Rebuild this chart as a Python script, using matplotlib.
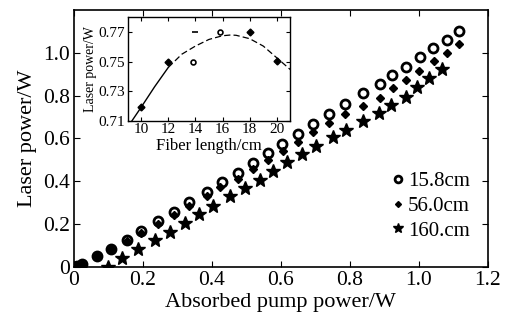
import numpy as np
import matplotlib
matplotlib.use("Agg")
from matplotlib import pyplot as plt

plt.rcParams['font.family'] = ['Liberation Serif', 'DejaVu Serif']
plt.rcParams['mathtext.fontset'] = 'stix'

# main data: laser power vs absorbed pump power
x_158 = [0, 0.01, 0.025, 0.066, 0.107, 0.153, 0.196, 0.243, 0.290, 0.335, 0.385, 0.428, 0.476, 0.520,
         0.563, 0.602, 0.650, 0.694, 0.740, 0.786, 0.839, 0.887, 0.921, 0.964, 1.003, 1.041, 1.082, 1.117]
y_158 = [0, 0.005, 0.015, 0.05, 0.085, 0.125, 0.168, 0.212, 0.256, 0.301, 0.350, 0.395, 0.44, 0.485,
         0.53, 0.575, 0.62, 0.665, 0.712, 0.76, 0.81, 0.855, 0.895, 0.935, 0.978, 1.02, 1.06, 1.10]

x_560 = [0, 0.01, 0.025, 0.066, 0.107, 0.153, 0.196, 0.243, 0.290, 0.335, 0.385, 0.425, 0.476, 0.520,
         0.563, 0.605, 0.650, 0.694, 0.740, 0.786, 0.839, 0.887, 0.926, 0.964, 1.001, 1.043, 1.082, 1.117]
y_560 = [0, 0.005, 0.015, 0.05, 0.085, 0.122, 0.160, 0.20, 0.24, 0.285, 0.33, 0.375, 0.41, 0.455,
         0.50, 0.54, 0.585, 0.63, 0.672, 0.715, 0.75, 0.79, 0.835, 0.875, 0.915, 0.96, 1.00, 1.04]

x_160 = [0.098, 0.14, 0.186, 0.235, 0.278, 0.322, 0.363, 0.404, 0.452, 0.496, 0.539, 0.578, 0.618, 0.66,
         0.701, 0.75, 0.79, 0.839, 0.885, 0.918, 0.962, 0.995, 1.03, 1.066]
y_160 = [0, 0.041, 0.082, 0.124, 0.164, 0.206, 0.245, 0.285, 0.33, 0.368, 0.407, 0.447, 0.488, 0.528,
         0.565, 0.605, 0.64, 0.68, 0.72, 0.755, 0.795, 0.84, 0.88, 0.925]

labels = ['15.8cm', '56.0cm', '160.cm']

# inset: laser power vs fiber length
fib_len = [10, 12, 13.8, 14, 15.8, 18, 20]
fib_pow = [0.719, 0.75, 0.75, 0.77, 0.770, 0.770, 0.7505]
fib_mark = ['D', 'D', 'o', '_', 'o', 'D', 'D']
fit_x = [9.3, 10, 11, 12, 13, 14, 15, 16, 16.6, 17, 18, 19, 20, 21]
fit_y = [0.7095, 0.719, 0.733, 0.746, 0.755, 0.7605, 0.765, 0.7675, 0.768, 0.7678, 0.7655, 0.7605, 0.7525, 0.7445]

fig = plt.figure(figsize=(5.06, 3.2), dpi=100)
ax = fig.add_axes([0.146, 0.166, 0.818, 0.803])

ax.plot(x_158, y_158, 'o', mfc='white', mec='black', ms=6.5, mew=2.0, ls='none', label=labels[0])
ax.plot(x_560, y_560, 'D', color='black', ms=4, ls='none', label=labels[1])
ax.plot(x_160, y_160, '*', color='black', ms=10, ls='none', label=labels[2])

ax.set_xlim(0, 1.2)
ax.set_ylim(0, 1.2)
ax.set_xticks([0, 0.2, 0.4, 0.6, 0.8, 1.0, 1.2])
ax.set_xticklabels(['0', '0.2', '0.4', '0.6', '0.8', '1.0', '1.2'])
ax.set_yticks([0, 0.2, 0.4, 0.6, 0.8, 1.0])
ax.set_yticklabels(['0', '0.2', '0.4', '0.6', '0.8', '1.0'])
ax.tick_params(direction='in', labelsize=15.5, length=4, top=True, right=True, pad=3)
ax.set_xlabel('Absorbed pump power/W', fontsize=16, labelpad=2)
ax.set_ylabel('Laser power/W', fontsize=16, labelpad=4)
for s in ax.spines.values():
    s.set_linewidth(1.2)

leg = ax.legend(loc='center left', bbox_to_anchor=(0.775, 0.356), bbox_transform=fig.transFigure,
                frameon=False, fontsize=15, handlelength=0.6, handletextpad=0.15,
                labelspacing=0.25, borderpad=0, borderaxespad=0, markerscale=0.75)

# inset
ins = fig.add_axes([0.252, 0.623, 0.322, 0.323])
split = 4
ins.plot(fit_x[:split], fit_y[:split], '-', color='black', lw=1.0)
ins.plot(fit_x[split - 1:], fit_y[split - 1:], color='black', lw=0.9, dashes=(5, 2.5))
for xv, yv, m in zip(fib_len, fib_pow, fib_mark):
    if m == 'o':
        ins.plot(xv, yv, m, mfc='white', mec='black', ms=3.5, mew=1.2)
    elif m == '_':
        ins.plot(xv, yv, m, color='black', ms=4, mew=1.2)
    else:
        ins.plot(xv, yv, m, color='black', ms=3.5)
ins.set_xlim(9, 21)
ins.set_ylim(0.71, 0.78)
ins.set_xticks([10, 12, 14, 16, 18, 20])
ins.set_yticks([0.71, 0.73, 0.75, 0.77])
ins.set_yticklabels(['0.71', '0.73', '0.75', '0.77'])
ins.tick_params(direction='in', labelsize=11, length=3, top=True, right=True, pad=2)
ins.set_xlabel('Fiber length/cm', fontsize=12, labelpad=1)
ins.set_ylabel('Laser power/W', fontsize=10, labelpad=1)
for s in ins.spines.values():
    s.set_linewidth(1.0)

fig.savefig('out.png', dpi=100)
